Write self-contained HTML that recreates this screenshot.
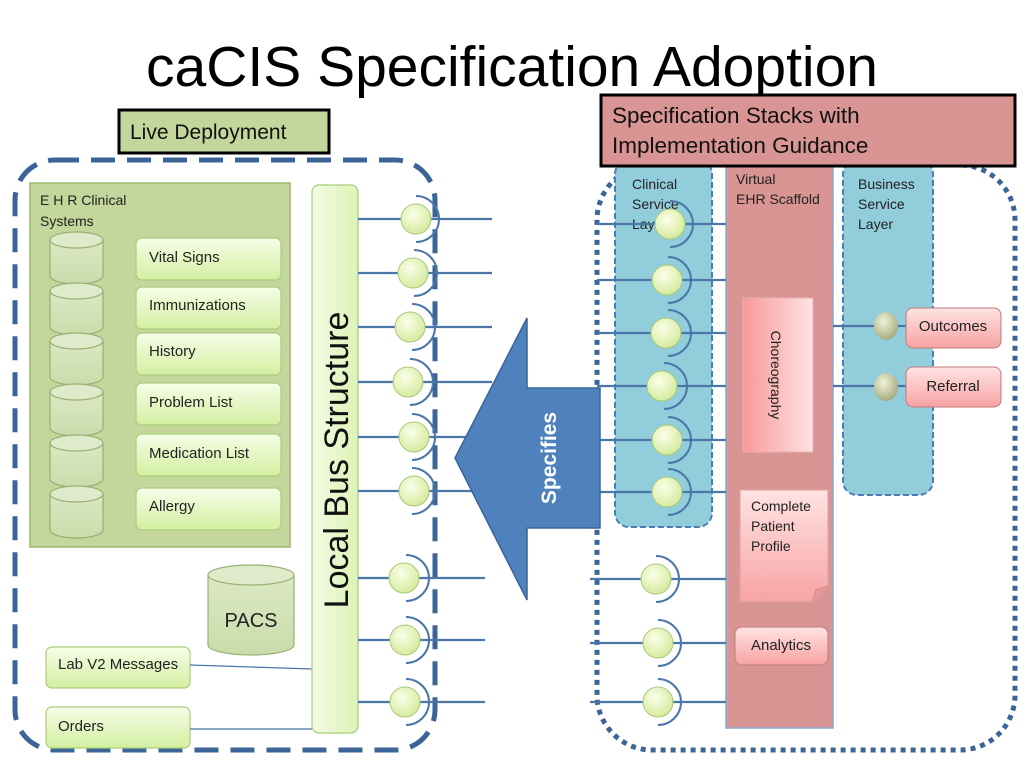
<!DOCTYPE html>
<html><head><meta charset="utf-8"><style>
html,body{margin:0;padding:0;background:#fff;}
svg{display:block;font-family:"Liberation Sans",sans-serif;}
</style></head><body>
<svg width="1024" height="768" viewBox="0 0 1024 768" xmlns="http://www.w3.org/2000/svg">
<defs>
<linearGradient id="gg" x1="0" y1="0" x2="0" y2="1"><stop offset="0" stop-color="#f7fde9"/><stop offset="1" stop-color="#d3efa0"/></linearGradient>
<linearGradient id="gbar" x1="0" y1="0" x2="1" y2="0"><stop offset="0" stop-color="#f4fbe4"/><stop offset="1" stop-color="#dcf3b5"/></linearGradient>
<radialGradient id="gc" cx="0.4" cy="0.35" r="0.7"><stop offset="0" stop-color="#fbfee8"/><stop offset="1" stop-color="#d3ea9a"/></radialGradient>
<radialGradient id="gc2" cx="0.4" cy="0.35" r="0.7"><stop offset="0" stop-color="#f1f3d8"/><stop offset="1" stop-color="#a3a77a"/></radialGradient>
<linearGradient id="gp" x1="0" y1="0" x2="0" y2="1"><stop offset="0" stop-color="#ffe3e3"/><stop offset="1" stop-color="#f7a3a3"/></linearGradient>
<linearGradient id="gph" x1="0" y1="0" x2="1" y2="0"><stop offset="0" stop-color="#f89898"/><stop offset="1" stop-color="#ffe3e3"/></linearGradient>
<linearGradient id="gcyl" x1="0" y1="0" x2="0" y2="1"><stop offset="0" stop-color="#dce8c4"/><stop offset="1" stop-color="#c9dcaa"/></linearGradient>
</defs>

<text x="512" y="86" font-size="57" text-anchor="middle" fill="#000">caCIS Specification Adoption</text>

<rect x="15" y="160" width="420" height="590" rx="40" fill="none" stroke="#3a6596" stroke-width="5" stroke-dasharray="24,12"/>

<rect x="30" y="183" width="260" height="364" fill="#c3d69b" stroke="#9bb86c" stroke-width="1.5"/>
<text x="40" y="205" font-size="14" fill="#222">E H R Clinical</text>
<text x="40" y="226" font-size="14" fill="#222">Systems</text>

<g stroke="#98b071" stroke-width="1.2" fill="url(#gcyl)">
<g transform="translate(0,232)"><path d="M50 8 v36 a26.5 8 0 0 0 53 0 v-36"/><ellipse cx="76.5" cy="8" rx="26.5" ry="8" fill="#dfeacb"/></g>
<g transform="translate(0,283)"><path d="M50 8 v36 a26.5 8 0 0 0 53 0 v-36"/><ellipse cx="76.5" cy="8" rx="26.5" ry="8" fill="#dfeacb"/></g>
<g transform="translate(0,333)"><path d="M50 8 v36 a26.5 8 0 0 0 53 0 v-36"/><ellipse cx="76.5" cy="8" rx="26.5" ry="8" fill="#dfeacb"/></g>
<g transform="translate(0,384)"><path d="M50 8 v36 a26.5 8 0 0 0 53 0 v-36"/><ellipse cx="76.5" cy="8" rx="26.5" ry="8" fill="#dfeacb"/></g>
<g transform="translate(0,435)"><path d="M50 8 v36 a26.5 8 0 0 0 53 0 v-36"/><ellipse cx="76.5" cy="8" rx="26.5" ry="8" fill="#dfeacb"/></g>
<g transform="translate(0,486)"><path d="M50 8 v36 a26.5 8 0 0 0 53 0 v-36"/><ellipse cx="76.5" cy="8" rx="26.5" ry="8" fill="#dfeacb"/></g>
</g>

<g fill="url(#gg)" stroke="#a9cd7a" stroke-width="1.2">
<rect x="136" y="238" width="145" height="42" rx="6"/>
<rect x="136" y="287" width="145" height="42" rx="6"/>
<rect x="136" y="333" width="145" height="42" rx="6"/>
<rect x="136" y="383" width="145" height="42" rx="6"/>
<rect x="136" y="434" width="145" height="42" rx="6"/>
<rect x="136" y="488" width="145" height="42" rx="6"/>
<rect x="46" y="647" width="144" height="41" rx="6"/>
<rect x="46" y="707" width="144" height="41" rx="6"/>
</g>
<g font-size="15" fill="#222">
<text x="149" y="262">Vital Signs</text>
<text x="149" y="310">Immunizations</text>
<text x="149" y="356">History</text>
<text x="149" y="407">Problem List</text>
<text x="149" y="458">Medication List</text>
<text x="149" y="511">Allergy</text>
<text x="58" y="669">Lab V2 Messages</text>
<text x="58" y="731">Orders</text>
</g>
<g stroke="#4a76a8" stroke-width="1.2">
<line x1="190" y1="665" x2="312" y2="669"/>
<line x1="190" y1="729" x2="312" y2="729"/>
</g>

<g stroke="#98b071" stroke-width="1.2">
<path d="M208 575 v70 a43 10 0 0 0 86 0 v-70" fill="url(#gcyl)"/>
<ellipse cx="251" cy="575" rx="43" ry="10" fill="#dfeacb"/>
</g>
<text x="251" y="627" font-size="20" text-anchor="middle" fill="#222">PACS</text>

<rect x="312" y="185" width="46" height="548" rx="7" fill="url(#gbar)" stroke="#a9cd7a" stroke-width="1.2"/>
<text transform="translate(348,460) rotate(-90)" font-size="34" text-anchor="middle" fill="#111">Local Bus Structure</text>

<g stroke="#4a76a8" stroke-width="2.2" fill="none">
<line x1="358" y1="219" x2="492" y2="219"/><line x1="358" y1="273" x2="492" y2="273"/>
<line x1="358" y1="327" x2="492" y2="327"/><line x1="358" y1="382" x2="492" y2="382"/>
<line x1="358" y1="437" x2="492" y2="437"/><line x1="358" y1="491" x2="492" y2="491"/>
<line x1="358" y1="578" x2="485" y2="578"/><line x1="358" y1="640" x2="485" y2="640"/>
<line x1="358" y1="702" x2="485" y2="702"/>
</g>
<g stroke="#4a76a8" stroke-width="2" fill="none">
<path d="M416 196 a23 23 0 0 1 0 46"/><path d="M414 250 a23 23 0 0 1 0 46"/>
<path d="M412 304 a23 23 0 0 1 0 46"/><path d="M410 359 a23 23 0 0 1 0 46"/>
<path d="M412 414 a23 23 0 0 1 0 46"/><path d="M412 468 a23 23 0 0 1 0 46"/>
<path d="M406 555 a23 23 0 0 1 0 46"/><path d="M406 617 a23 23 0 0 1 0 46"/>
<path d="M406 679 a23 23 0 0 1 0 46"/>
</g>
<g fill="url(#gc)" stroke="#a9c77a" stroke-width="1">
<circle cx="416" cy="219" r="15"/><circle cx="413" cy="273" r="15"/>
<circle cx="410" cy="327" r="15"/><circle cx="408" cy="382" r="15"/>
<circle cx="414" cy="437" r="15"/><circle cx="414" cy="491" r="15"/>
<circle cx="404" cy="578" r="15"/><circle cx="405" cy="640" r="15"/>
<circle cx="405" cy="702" r="15"/>
</g>

<rect x="597" y="165" width="418" height="585" rx="55" fill="none" stroke="#3a6596" stroke-width="5" stroke-dasharray="5,5"/>

<rect x="615" y="160" width="97" height="367" rx="14" fill="#92cddc" stroke="#4a7ebb" stroke-width="2" stroke-dasharray="6,3"/>
<rect x="726" y="160" width="107" height="568" fill="#d99594" stroke="#8aa8cc" stroke-width="1.5"/>
<rect x="843" y="160" width="90" height="335" rx="14" fill="#92cddc" stroke="#4a7ebb" stroke-width="2" stroke-dasharray="6,3"/>
<g font-size="14" fill="#222">
<text x="632" y="189">Clinical</text><text x="632" y="209">Service</text><text x="632" y="229">Lay</text>
<text x="736" y="184">Virtual</text><text x="736" y="204">EHR Scaffold</text>
<text x="858" y="189">Business</text><text x="858" y="209">Service</text><text x="858" y="229">Layer</text>
</g>

<rect x="601" y="95" width="414" height="71" fill="#d99594" stroke="#000" stroke-width="3"/>
<text x="612" y="123" font-size="22.5" fill="#111">Specification Stacks with</text>
<text x="612" y="153" font-size="22.5" fill="#111">Implementation Guidance</text>

<rect x="119" y="110" width="210" height="43" fill="#c3d69b" stroke="#000" stroke-width="3"/>
<text x="130" y="139" font-size="21" fill="#111">Live Deployment</text>

<g stroke="#4a76a8" stroke-width="2.2" fill="none">
<line x1="597" y1="224" x2="726" y2="224"/><line x1="597" y1="280" x2="726" y2="280"/>
<line x1="597" y1="333" x2="726" y2="333"/><line x1="597" y1="386" x2="726" y2="386"/>
<line x1="597" y1="440" x2="726" y2="440"/><line x1="597" y1="492" x2="726" y2="492"/>
<line x1="590" y1="579" x2="726" y2="579"/><line x1="590" y1="643" x2="726" y2="643"/>
<line x1="590" y1="702" x2="726" y2="702"/>
<line x1="833" y1="326" x2="906" y2="326"/><line x1="833" y1="386" x2="906" y2="386"/>
</g>
<g stroke="#4a76a8" stroke-width="2" fill="none">
<path d="M670 201 a23 23 0 0 1 0 46"/><path d="M668 257 a23 23 0 0 1 0 46"/>
<path d="M668 310 a23 23 0 0 1 0 46"/><path d="M664 363 a23 23 0 0 1 0 46"/>
<path d="M668 417 a23 23 0 0 1 0 46"/><path d="M668 469 a23 23 0 0 1 0 46"/>
<path d="M656 556 a23 23 0 0 1 0 46"/><path d="M658 620 a23 23 0 0 1 0 46"/>
<path d="M658 679 a23 23 0 0 1 0 46"/>
</g>
<g fill="url(#gc)" stroke="#a9c77a" stroke-width="1">
<circle cx="670" cy="224" r="15"/><circle cx="667" cy="280" r="15"/>
<circle cx="666" cy="333" r="15"/><circle cx="662" cy="386" r="15"/>
<circle cx="667" cy="440" r="15"/><circle cx="667" cy="492" r="15"/>
<circle cx="656" cy="579" r="15"/><circle cx="658" cy="643" r="15"/>
<circle cx="658" cy="702" r="15"/>
</g>
<ellipse cx="886" cy="326" rx="12" ry="14" fill="url(#gc2)"/>
<ellipse cx="886" cy="387" rx="12" ry="14" fill="url(#gc2)"/>

<rect x="743" y="298" width="70" height="154" fill="url(#gph)" stroke="#e8b0b0"/>
<text transform="translate(771,375) rotate(90)" font-size="14" text-anchor="middle" fill="#222">Choreography</text>
<path d="M740 490 h88 v96 l-16 16 h-72 z" fill="url(#gp)" stroke="#e0a0a0"/>
<path d="M812 602 l4 -12 l12 -4" fill="#e79a9a" stroke="#d08888"/>
<g font-size="14" fill="#222"><text x="751" y="511">Complete</text><text x="751" y="531">Patient</text><text x="751" y="551">Profile</text></g>
<rect x="735" y="627" width="93" height="38" rx="7" fill="url(#gp)" stroke="#c07a7a"/>
<text x="781" y="650" font-size="15" text-anchor="middle" fill="#222">Analytics</text>
<rect x="906" y="308" width="95" height="40" rx="7" fill="url(#gp)" stroke="#c07a7a"/>
<text x="953" y="331" font-size="15" text-anchor="middle" fill="#222">Outcomes</text>
<rect x="906" y="367" width="95" height="40" rx="7" fill="url(#gp)" stroke="#c07a7a"/>
<text x="953" y="391" font-size="15" text-anchor="middle" fill="#222">Referral</text>

<path d="M455 458 L527 318 L527 388 L600 388 L600 528 L527 528 L527 600 Z" fill="#4f81bd" stroke="#3a6596" stroke-width="1.5"/>
<text transform="translate(556,458) rotate(-90)" font-size="21" font-weight="bold" text-anchor="middle" fill="#fff">Specifies</text>
</svg>
</body></html>
